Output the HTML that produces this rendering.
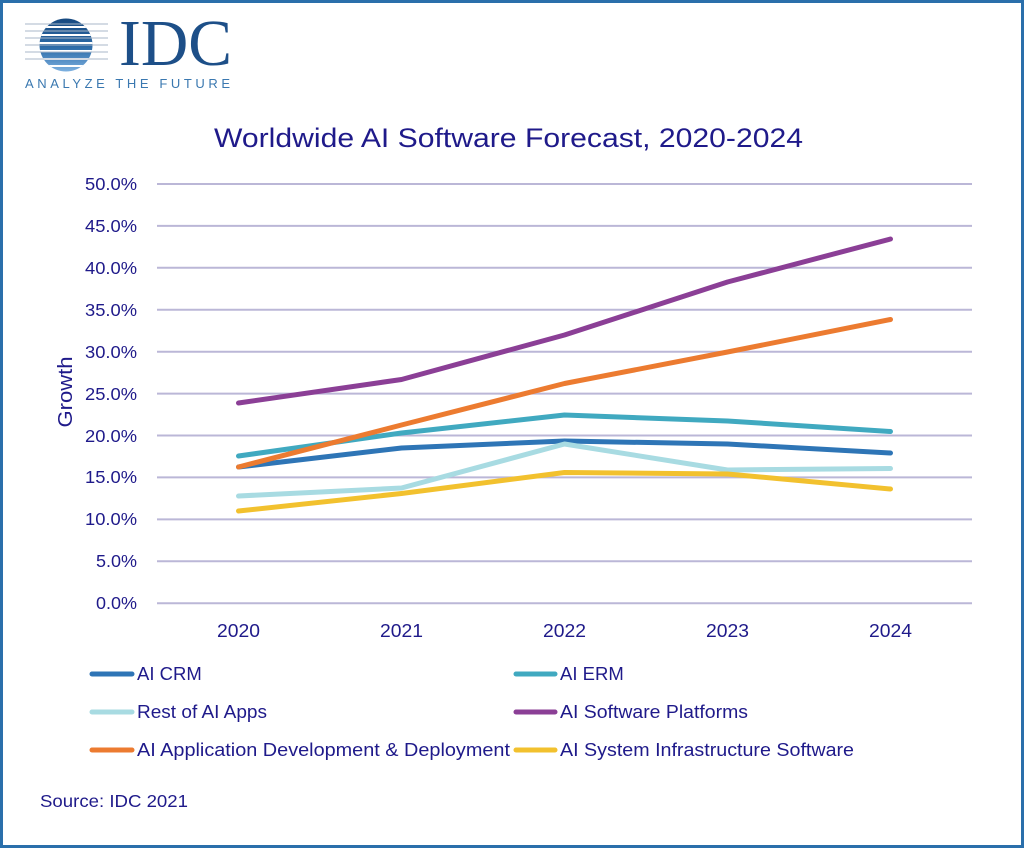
<!DOCTYPE html>
<html><head><meta charset="utf-8"><style>
html,body{margin:0;padding:0;background:#fff;}
svg{display:block;}
text{font-family:"Liberation Sans",sans-serif;fill:#1f1a8a;}
</style></head><body>
<svg width="1024" height="848" viewBox="0 0 1024 848" xmlns="http://www.w3.org/2000/svg">
<rect x="0" y="0" width="1024" height="848" fill="#fff"/>
<rect x="1.5" y="1.5" width="1021" height="845" fill="none" stroke="#2a6fab" stroke-width="3"/>
<!-- logo -->
<defs>
<clipPath id="circ"><circle cx="66" cy="45" r="26.5"/></clipPath>
<linearGradient id="lg" x1="0" y1="0" x2="0" y2="1">
<stop offset="0" stop-color="#16487f"/><stop offset="0.55" stop-color="#2f6eaa"/><stop offset="1" stop-color="#86b8e6"/>
</linearGradient>
</defs>
<g clip-path="url(#circ)">
<rect x="38" y="18" width="56" height="56" fill="url(#lg)"/>
<g stroke="#fff" stroke-width="2">
<line x1="30" y1="27" x2="100" y2="27"/>
<line x1="30" y1="35" x2="100" y2="35"/>
<line x1="30" y1="43" x2="100" y2="43"/>
<line x1="30" y1="51" x2="100" y2="51"/>
<line x1="30" y1="59" x2="100" y2="59"/>
<line x1="30" y1="66" x2="100" y2="66"/>
</g>
</g>
<g stroke="#a9b7c8" stroke-width="1">
<line x1="25" y1="24" x2="108" y2="24"/>
<line x1="25" y1="31" x2="108" y2="31"/>
<line x1="25" y1="38" x2="108" y2="38"/>
<line x1="25" y1="45" x2="108" y2="45"/>
<line x1="25" y1="52" x2="108" y2="52"/>
<line x1="25" y1="59" x2="108" y2="59"/>
</g>
<text x="119" y="65" style="font-family:'Liberation Serif',serif;fill:#1d4f88" font-size="66" textLength="113" lengthAdjust="spacingAndGlyphs">IDC</text>
<text x="25" y="88" style="fill:#3a78b0" font-size="13" textLength="205" lengthAdjust="spacing">ANALYZE THE FUTURE</text>
<!-- title -->
<text x="214" y="147" font-size="27" textLength="589" lengthAdjust="spacingAndGlyphs">Worldwide AI Software Forecast, 2020-2024</text>
<!-- gridlines -->
<g stroke="#bbb7d7" stroke-width="2">
<line x1="157" x2="972" y1="184" y2="184"/>
<line x1="157" x2="972" y1="225.9" y2="225.9"/>
<line x1="157" x2="972" y1="267.8" y2="267.8"/>
<line x1="157" x2="972" y1="309.8" y2="309.8"/>
<line x1="157" x2="972" y1="351.7" y2="351.7"/>
<line x1="157" x2="972" y1="393.6" y2="393.6"/>
<line x1="157" x2="972" y1="435.5" y2="435.5"/>
<line x1="157" x2="972" y1="477.4" y2="477.4"/>
<line x1="157" x2="972" y1="519.4" y2="519.4"/>
<line x1="157" x2="972" y1="561.3" y2="561.3"/>
<line x1="157" x2="972" y1="603.2" y2="603.2"/>
</g>
<!-- y labels -->
<g font-size="17.5" text-anchor="end">
<text x="137" y="190" textLength="52" lengthAdjust="spacingAndGlyphs">50.0%</text>
<text x="137" y="232" textLength="52" lengthAdjust="spacingAndGlyphs">45.0%</text>
<text x="137" y="274" textLength="52" lengthAdjust="spacingAndGlyphs">40.0%</text>
<text x="137" y="316" textLength="52" lengthAdjust="spacingAndGlyphs">35.0%</text>
<text x="137" y="358" textLength="52" lengthAdjust="spacingAndGlyphs">30.0%</text>
<text x="137" y="400" textLength="52" lengthAdjust="spacingAndGlyphs">25.0%</text>
<text x="137" y="442" textLength="52" lengthAdjust="spacingAndGlyphs">20.0%</text>
<text x="137" y="483" textLength="52" lengthAdjust="spacingAndGlyphs">15.0%</text>
<text x="137" y="525" textLength="52" lengthAdjust="spacingAndGlyphs">10.0%</text>
<text x="137" y="567" textLength="41" lengthAdjust="spacingAndGlyphs">5.0%</text>
<text x="137" y="609" textLength="41" lengthAdjust="spacingAndGlyphs">0.0%</text>
</g>
<text transform="translate(72,392) rotate(-90)" font-size="20" text-anchor="middle" textLength="71" lengthAdjust="spacingAndGlyphs">Growth</text>
<!-- x labels -->
<g font-size="18" text-anchor="middle">
<text x="238.5" y="637" textLength="43" lengthAdjust="spacingAndGlyphs">2020</text>
<text x="401.5" y="637" textLength="43" lengthAdjust="spacingAndGlyphs">2021</text>
<text x="564.5" y="637" textLength="43" lengthAdjust="spacingAndGlyphs">2022</text>
<text x="727.5" y="637" textLength="43" lengthAdjust="spacingAndGlyphs">2023</text>
<text x="890.5" y="637" textLength="43" lengthAdjust="spacingAndGlyphs">2024</text>
</g>
<!-- series -->
<g fill="none" stroke-width="5" stroke-linecap="round" stroke-linejoin="round">
<polyline stroke="#2e75b6" points="238.5,467 401.5,448 564.5,441 727.5,444 890.5,453"/>
<polyline stroke="#40a9c0" points="238.5,456 401.5,433 564.5,415 727.5,421 890.5,431.5"/>
<polyline stroke="#a8dbe2" points="238.5,496 401.5,488 564.5,444 727.5,470 890.5,468.5"/>
<polyline stroke="#8b3f96" points="238.5,403 401.5,379.5 564.5,335 727.5,282 890.5,239"/>
<polyline stroke="#ec7b30" points="238.5,467 401.5,425 564.5,383.5 727.5,352 890.5,319.5"/>
<polyline stroke="#f2c12e" points="238.5,511 401.5,493.5 564.5,472.5 727.5,474 890.5,489"/>
</g>
<!-- legend -->
<g stroke-width="5" stroke-linecap="round">
<line x1="92" x2="132" y1="674" y2="674" stroke="#2e75b6"/>
<line x1="92" x2="132" y1="712" y2="712" stroke="#a8dbe2"/>
<line x1="92" x2="132" y1="750" y2="750" stroke="#ec7b30"/>
<line x1="516" x2="555" y1="674" y2="674" stroke="#40a9c0"/>
<line x1="516" x2="555" y1="712" y2="712" stroke="#8b3f96"/>
<line x1="516" x2="555" y1="750" y2="750" stroke="#f2c12e"/>
</g>
<g font-size="18.5">
<text x="137" y="680">AI CRM</text>
<text x="137" y="718" textLength="130" lengthAdjust="spacingAndGlyphs">Rest of AI Apps</text>
<text x="137" y="756" textLength="373" lengthAdjust="spacingAndGlyphs">AI Application Development &amp; Deployment</text>
<text x="560" y="680">AI ERM</text>
<text x="560" y="718" textLength="188" lengthAdjust="spacingAndGlyphs">AI Software Platforms</text>
<text x="560" y="756" textLength="294" lengthAdjust="spacingAndGlyphs">AI System Infrastructure Software</text>
</g>
<text x="40" y="807" font-size="17.5" textLength="148" lengthAdjust="spacingAndGlyphs">Source: IDC 2021</text>
</svg>
</body></html>
